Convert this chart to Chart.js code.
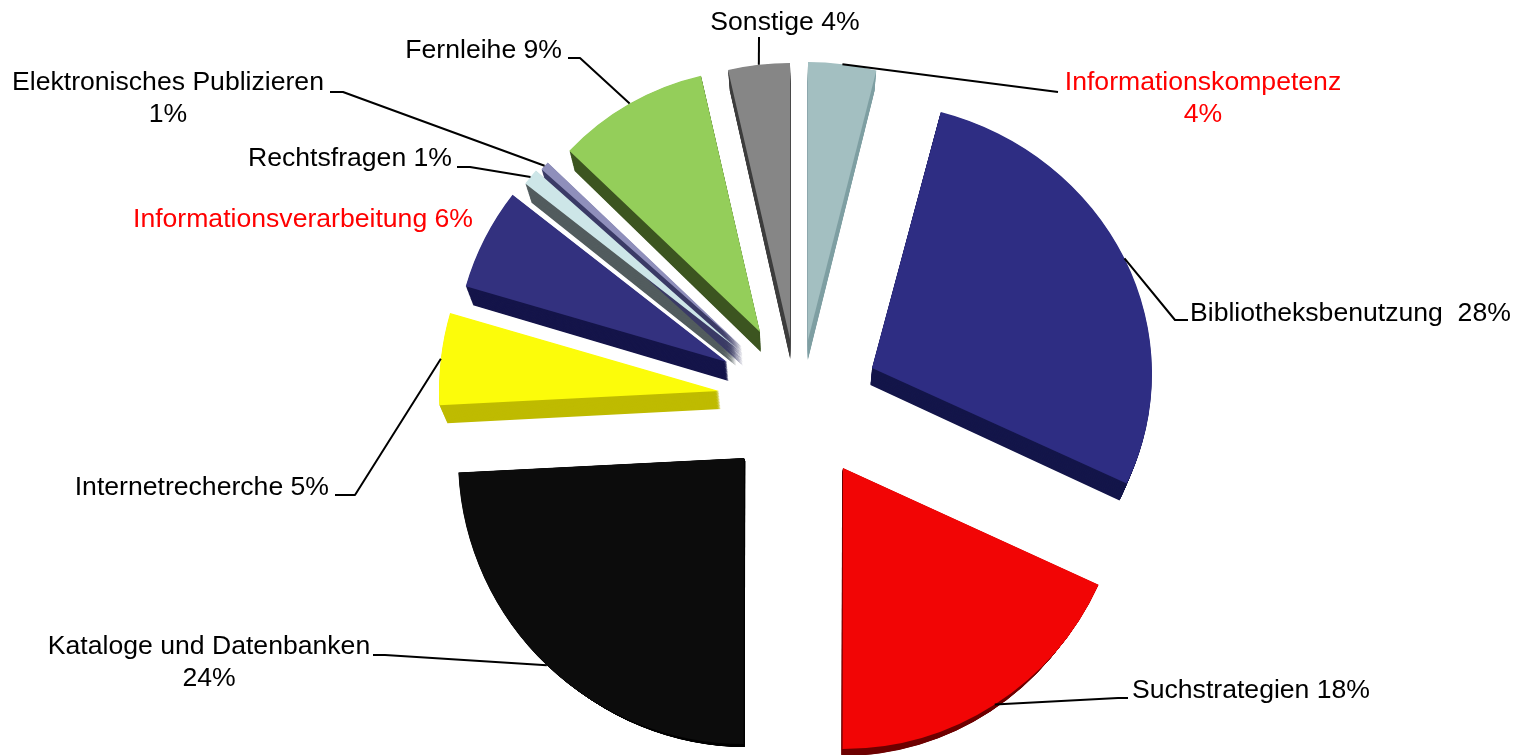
<!DOCTYPE html>
<html lang="de">
<head>
<meta charset="utf-8">
<title>Themen</title>
<script src="https://cdn.jsdelivr.net/npm/chart.js@4"></script>
<style>
  html, body { margin: 0; padding: 0; background: #fff; overflow: hidden; }
  canvas { display: block; }
</style>
</head>
<body>
<canvas id="pie" width="1513" height="755"></canvas>
<script>
const categories = [
  'Informationskompetenz', 'Bibliotheksbenutzung', 'Suchstrategien',
  'Kataloge und Datenbanken', 'Internetrecherche', 'Informationsverarbeitung',
  'Rechtsfragen', 'Elektronisches Publizieren', 'Fernleihe', 'Sonstige'
];
// Slice sizes read off the angles in the picture, so not the rounded label values.
const shares = [3.95, 27.85, 18.2, 24.15, 5.3, 6.05, 1.0, 0.55, 9.3, 3.6];
const labelLines = [
  ['Informationskompetenz', '4%'], ['Bibliotheksbenutzung  28%'], ['Suchstrategien 18%'],
  ['Kataloge und Datenbanken', '24%'], ['Internetrecherche 5%'], ['Informationsverarbeitung 6%'],
  ['Rechtsfragen 1%'], ['Elektronisches Publizieren', '1%'], ['Fernleihe 9%'], ['Sonstige 4%']
];

const topColors = ['#a3bfc1', '#2e2d83', '#f20505', '#0c0c0c', '#fcfc0a', '#33317f', '#cde6e8', '#8f8fbb', '#94ce5a', '#868686'];
const wallColors = ['#7f9fa3', '#14164a', '#6e0000', '#000000', '#bfbb00', '#15154a', '#525c5e', '#3a3a66', '#3c5520', '#3f3f3f'];
const labelColors = ['#ff0000', '#000', '#000', '#000', '#000', '#ff0000', '#000', '#000', '#000', '#000'];

// The original is a perspective 3D pie, so each piece gets its own pull-out, radius change, wall depth and tilt.
const pullOut = [[7, -61], [71, -33], [42, 67], [-57, 57], [-82, -10], [-74, -39], [-66, -54], [-59, -54], [-41, -69], [-11, -62]];
const radiusChange = [-2, 0, 1, 6, 0, -8, -14, -12, -17, -4];
const wallDepth = [20, 17, 7, 3, 18, 19, 19, 19, 20, 20];
const squash = [1, 0.9485, 1, 1, 1, 1, 1, 1, 1, 1];
const shear = [0, 0.0206, 0, 0, 0, 0, 0, 0, 0, 0];

// Label placement: x, y of first line, text align.
const labelPlaces = [
  [1203, 83, 'center'], [1190, 314, 'left'], [1132, 691, 'left'], [209, 647, 'center'], [329, 488, 'right'],
  [473, 220, 'right'], [452, 159, 'right'], [168, 83, 'center'], [562, 51, 'right'], [785, 23, 'center']
];
// Leader line bends, from the slice edge towards the label.
const leaderBends = [
  [[1058, 92]], [[1175, 320], [1188, 320]], [[1118, 698], [1128, 698]], [[385, 655], [373, 655]], [[355, 495], [335, 495]],
  null, [[470, 167], [457, 167]], [[343, 92], [330, 92]], [[580, 58], [568, 58]], [[759, 37]]
];

const LINE_HEIGHT = 32;
const WALL_STEPS = 24;
const WALL_NARROW = 0.022;
const WALL_CENTER_X = 800;

const sectorPath = (ctx, arc) => {
  ctx.beginPath();
  ctx.moveTo(arc.x, arc.y);
  ctx.arc(arc.x, arc.y, arc.outerRadius, arc.startAngle, arc.endAngle);
  ctx.closePath();
};

// Apply a slice's tilt around its own apex.
const tiltAround = (ctx, arc, i) => {
  ctx.translate(arc.x, arc.y);
  ctx.transform(1, shear[i], 0, squash[i], 0, 0);
  ctx.translate(-arc.x, -arc.y);
};

const explodePlugin = {
  id: 'explode',
  // Pull the sectors out as whole pieces; the built-in offset also grows the radius.
  afterDatasetsUpdate(chart) {
    chart.getDatasetMeta(0).data.forEach((arc, i) => {
      arc.x += pullOut[i][0];
      arc.y += pullOut[i][1];
      arc.outerRadius += radiusChange[i];
      const baseDraw = arc.draw;
      arc.draw = function (ctx) {
        ctx.save();
        tiltAround(ctx, this, i);
        baseDraw.call(this, ctx);
        ctx.restore();
      };
    });
  },
  beforeDatasetsDraw(chart) {
    const ctx = chart.ctx;
    chart.getDatasetMeta(0).data.forEach((arc, i) => {
      ctx.fillStyle = wallColors[i];
      for (let s = WALL_STEPS; s > 0; s--) {
        const t = s / WALL_STEPS;
        const narrow = 1 - WALL_NARROW * t;
        ctx.save();
        ctx.translate(WALL_CENTER_X, wallDepth[i] * t);
        ctx.scale(narrow, 1);
        ctx.translate(-WALL_CENTER_X, 0);
        tiltAround(ctx, arc, i);
        sectorPath(ctx, arc);
        ctx.fill();
        ctx.restore();
      }
    });
  },
  afterDatasetsDraw(chart) {
    const ctx = chart.ctx;
    ctx.save();
    ctx.strokeStyle = '#000';
    ctx.lineWidth = 2;
    ctx.lineJoin = 'round';
    chart.getDatasetMeta(0).data.forEach((arc, i) => {
      if (!leaderBends[i]) {
        return;
      }
      const mid = (arc.startAngle + arc.endAngle) / 2;
      const dx = Math.cos(mid) * arc.outerRadius;
      const dy = Math.sin(mid) * arc.outerRadius;
      ctx.beginPath();
      ctx.moveTo(arc.x + dx, arc.y + dx * shear[i] + dy * squash[i]);
      leaderBends[i].forEach(p => ctx.lineTo(p[0], p[1]));
      ctx.stroke();
    });
    ctx.font = '26.6px "Liberation Sans", Arial, sans-serif';
    ctx.textBaseline = 'middle';
    labelLines.forEach((lines, i) => {
      const [x, y, align] = labelPlaces[i];
      ctx.textAlign = align;
      ctx.fillStyle = labelColors[i];
      lines.forEach((line, n) => ctx.fillText(line, x, y + n * LINE_HEIGHT));
    });
    ctx.restore();
  }
};

new Chart(document.getElementById('pie'), {
  type: 'pie',
  data: {
    labels: categories,
    datasets: [{
      data: shares,
      backgroundColor: topColors,
      borderWidth: 0
    }]
  },
  options: {
    responsive: false,
    animation: false,
    events: [],
    layout: { padding: { left: 521, right: 432, top: 121, bottom: 74 } },
    plugins: {
      legend: { display: false },
      tooltip: { enabled: false }
    }
  },
  plugins: [explodePlugin]
});
</script>
</body>
</html>
